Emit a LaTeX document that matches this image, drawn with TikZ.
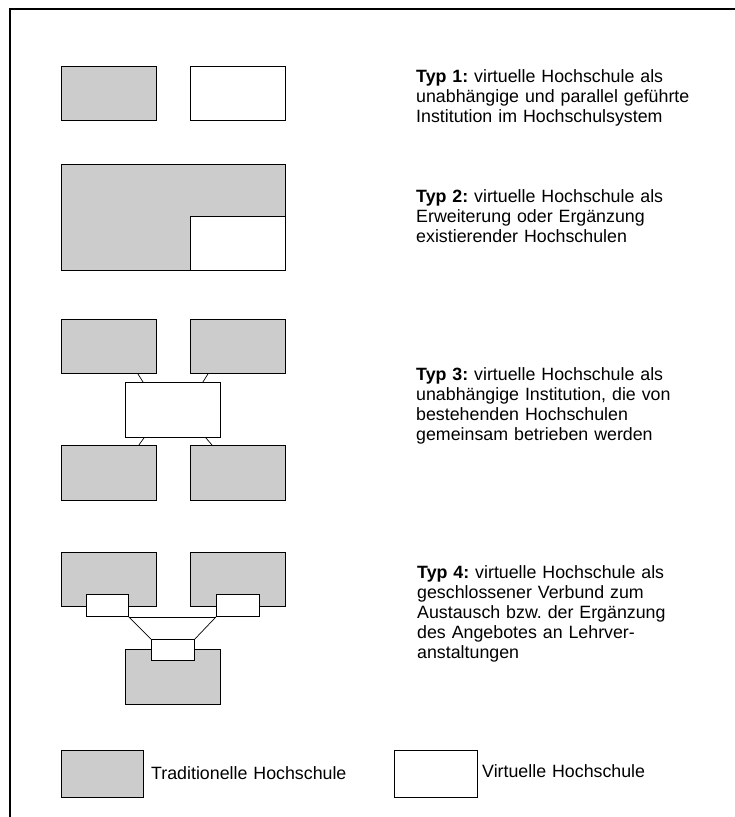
\documentclass[tikz,border=0pt]{standalone}
\usepackage{fontspec}
\setmainfont{Liberation Sans}
\usetikzlibrary{positioning}
\frenchspacing

\tikzset{
    hs/.style={draw, line width=0.9pt, inner sep=0pt, anchor=north west,
        minimum width=95pt, minimum height=54pt},
    trad/.style={hs, fill=gray!40},
    virt/.style={hs, fill=white},
    klein/.style={virt, minimum width=42pt, minimum height=22pt},
    verb/.style={line width=0.7pt},
    typtext/.style={anchor=base west, inner sep=0pt, text width=300pt, align=left,
        font=\fontsize{17.8}{20}\selectfont},
}

\begin{document}
\begin{tikzpicture}[x=1pt, y=-1pt]
    \useasboundingbox (0,0) rectangle (735,817);
    \draw[line width=1.3pt] (10,817) -- (10,9) -- (735,9);

    % Typ 1
    \node[trad] (t1a) at (61,66) {};
    \node[virt] (t1b) at (190,66) {};
    \node[typtext] (txt1) at (416,82) {\textbf{Typ 1:} virtuelle Hochschule als\\
        unabhängige und parallel geführte\\ Institution im Hochschulsystem};

    % Typ 2
    \node[trad, minimum width=224pt, minimum height=106pt] (t2a) at (61,164) {};
    \node[virt, anchor=south east] (t2b) at (t2a.south east) {};
    \node[typtext] (txt2) at (416,202) {\textbf{Typ 2:} virtuelle Hochschule als\\
        Erweiterung oder Ergänzung\\ existierender Hochschulen};

    % Typ 3
    \node[trad] (t3tl) at (61,319) {};
    \node[trad] (t3tr) at (190,319) {};
    \node[virt, minimum height=55pt] (t3m) at (125,382) {};
    \node[trad, minimum height=55pt] (t3bl) at (61,445) {};
    \node[trad, minimum height=55pt] (t3br) at (190,445) {};
    \draw[verb] ([xshift=-19pt]t3tl.south east) -- ([xshift=18pt]t3m.north west);
    \draw[verb] ([xshift=18pt]t3tr.south west) -- ([xshift=-18pt]t3m.north east);
    \draw[verb] ([xshift=19pt]t3m.south west) -- ([xshift=-18pt]t3bl.north east);
    \draw[verb] ([xshift=-15pt]t3m.south east) -- ([xshift=22pt]t3br.north west);
    \node[typtext] (txt3) at (416,380) {\textbf{Typ 3:} virtuelle Hochschule als\\
        unabhängige Institution, die von\\ bestehenden Hochschulen\\
        gemeinsam betrieben werden};

    % Typ 4
    \node[trad] (t4l) at (61,552) {};
    \node[trad] (t4r) at (190,552) {};
    \node[trad, minimum height=55pt] (t4u) at (125,649) {};
    \node[klein] (v4l) at (86,594) {};
    \node[klein, minimum width=43pt] (v4r) at (216,594) {};
    \node[klein, minimum width=43pt, minimum height=21pt] (v4u) at (151,639) {};
    \draw[verb] (v4l.south east) -- (v4r.south west);
    \draw[verb] (v4l.south east) -- (v4u.north west);
    \draw[verb] (v4r.south west) -- (v4u.north east);
    \node[typtext] (txt4) at (417,578) {\textbf{Typ 4:} virtuelle Hochschule als\\
        geschlossener Verbund zum\\ Austausch bzw. der Ergänzung\\
        des Angebotes an Lehrver-\\ anstaltungen};

    % Legende
    \node[trad, minimum width=82pt, minimum height=47pt] (legt) at (61,750) {};
    \node[typtext, text width=200pt] (legtt) at (151,779) {Traditionelle Hochschule};
    \node[virt, minimum width=83pt, minimum height=47pt] (legv) at (394,750) {};
    \node[typtext, text width=200pt] (legvt) at (482,777) {Virtuelle Hochschule};
\end{tikzpicture}
\end{document}
